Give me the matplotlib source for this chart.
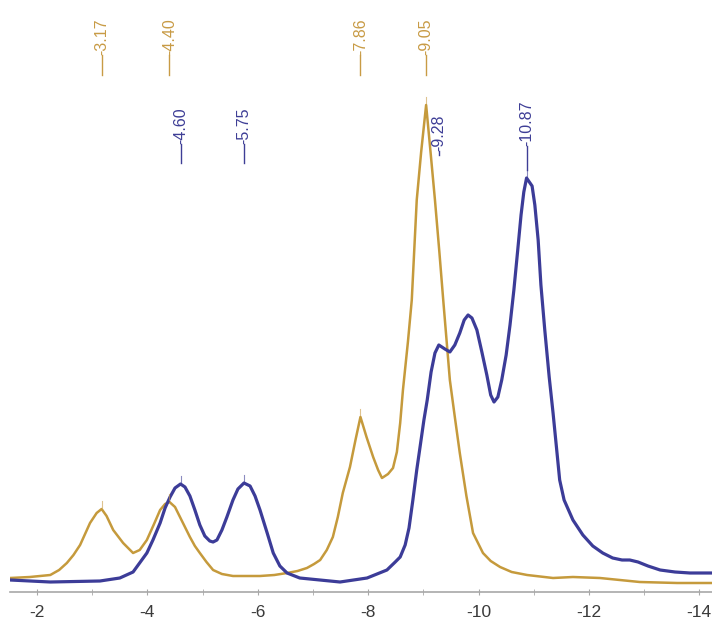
import matplotlib
matplotlib.use("Agg")
import matplotlib.pyplot as plt
from matplotlib.ticker import MultipleLocator, FuncFormatter

plt.rcParams["font.family"] = ["Liberation Sans", "DejaVu Sans"]
plt.rcParams["axes.unicode_minus"] = False

# Gold spectrum: chemical shift (ppm) and intensity
gold_shift = [-1.51, -1.87, -2.24, -2.40, -2.54, -2.66, -2.78, -2.96, -3.08, -3.17,
              -3.26, -3.38, -3.56, -3.74, -3.86, -3.99, -4.12, -4.23, -4.32, -4.40,
              -4.50, -4.59, -4.68, -4.77, -4.86, -4.95, -5.07, -5.19, -5.35, -5.55,
              -5.80, -6.04, -6.30, -6.53, -6.72, -6.89, -7.02, -7.13, -7.25, -7.36,
              -7.45, -7.54, -7.67, -7.77, -7.86, -7.97, -8.09, -8.18, -8.25, -8.36,
              -8.45, -8.52, -8.58, -8.63, -8.72, -8.79, -8.88, -8.96, -9.05, -9.13,
              -9.21, -9.29, -9.36, -9.48, -9.57, -9.66, -9.78, -9.90, -10.08, -10.22,
              -10.39, -10.60, -10.88, -11.35, -11.71, -12.20, -12.92, -13.60, -14.23]
gold_int = [14, 15, 17, 22, 29, 37, 47, 69, 79, 83,
            76, 62, 49, 39, 42, 52, 68, 82, 88, 90,
            85, 75, 65, 55, 46, 39, 30, 22, 18, 16,
            16, 16, 17, 19, 21, 24, 28, 32, 42, 55,
            75, 99, 125, 152, 175, 155, 135, 122, 114, 118,
            124, 140, 169, 202, 250, 292, 392, 440, 487, 440,
            392, 340, 292, 212, 175, 139, 96, 59, 39, 31,
            25, 20, 17, 14, 15, 14, 10, 9, 9]

# Blue spectrum: chemical shift (ppm) and intensity
blue_shift = [-1.51, -2.24, -3.14, -3.50, -3.74, -3.99, -4.10, -4.23, -4.32, -4.41,
              -4.50, -4.60, -4.68, -4.77, -4.86, -4.95, -5.04, -5.13, -5.19, -5.26,
              -5.35, -5.44, -5.55, -5.64, -5.75, -5.86, -5.95, -6.04, -6.17, -6.28,
              -6.40, -6.53, -6.76, -7.49, -7.98, -8.34, -8.49, -8.58, -8.67, -8.74,
              -8.81, -8.88, -8.94, -9.01, -9.07, -9.14, -9.21, -9.28, -9.39, -9.48,
              -9.57, -9.66, -9.74, -9.81, -9.88, -9.97, -10.06, -10.15, -10.22, -10.28,
              -10.35, -10.42, -10.50, -10.57, -10.64, -10.71, -10.77, -10.82, -10.87, -10.97,
              -11.02, -11.08, -11.13, -11.20, -11.28, -11.35, -11.42, -11.47, -11.55, -11.71,
              -11.89, -12.07, -12.25, -12.43, -12.60, -12.74, -12.89, -13.07, -13.29, -13.56,
              -13.83, -14.23]
blue_int = [12, 10, 11, 14, 20, 39, 52, 69, 84, 95,
            104, 108, 105, 96, 82, 67, 56, 51, 50, 52,
            62, 75, 92, 103, 109, 106, 96, 82, 59, 39,
            26, 19, 14, 10, 14, 22, 30, 35, 47, 64,
            92, 122, 145, 172, 192, 220, 239, 247, 243, 240,
            247, 259, 272, 277, 274, 262, 240, 217, 197, 190,
            195, 212, 237, 267, 302, 342, 377, 400, 414, 406,
            387, 352, 307, 262, 215, 179, 140, 112, 92, 72,
            57, 46, 39, 34, 32, 32, 30, 26, 22, 20,
            19, 19]

# Peak labels: (shift, label text)
gold_peaks = [-3.17, -4.40, -7.86, -9.05]
gold_labels = ["-3.17", "-4.40", "-7.86", "-9.05"]
blue_peaks = [-4.60, -5.75, -9.28, -10.87]
blue_labels = ["-4.60", "-5.75", "-9.28", "-10.87"]

GOLD = "#C59A3C"
GOLD_TXT = "#C89B45"
BLUE = "#3C3C98"
BLUE_TXT = "#3E3E96"

fig = plt.figure(figsize=(7.12, 6.24), dpi=100)
ax = fig.add_axes([10 / 712, 32 / 624, 702 / 712, 592 / 624])

ax.plot(gold_shift, gold_int, color=GOLD, lw=1.8, solid_joinstyle="round")
ax.plot(blue_shift, blue_int, color=BLUE, lw=2.3, solid_joinstyle="round")

ax.set_xlim(-1.51, -14.23)
ax.set_ylim(0, 592)


def peak_label(x, base, leader, text, color, peak_h=None):
    ax.plot([x, x], [base, base + leader], color=color, lw=1.0)
    ax.text(x, base + leader, text, rotation=90, ha="center", va="bottom",
            color=color, fontsize=11.5)
    if peak_h is not None:
        ax.plot([x, x], [peak_h + 2, peak_h + 8], color=color, lw=0.8, alpha=0.6)


gold_lookup = dict(zip(gold_shift, gold_int))
blue_lookup = dict(zip(blue_shift, blue_int))

for x, t in zip(gold_peaks, gold_labels):
    peak_label(x, 517, 20, t, GOLD_TXT, gold_lookup.get(x))

blue_base = {-4.60: (429, 19), -5.75: (429, 19), -9.28: (437, 4), -10.87: (422, 24)}
for x, t in zip(blue_peaks, blue_labels):
    b, l = blue_base[x]
    peak_label(x, b, l, t, BLUE_TXT, blue_lookup.get(x) if x != -9.28 else None)

for s in ["top", "left", "right"]:
    ax.spines[s].set_visible(False)
ax.spines["bottom"].set_color("#A8A8A8")
ax.spines["bottom"].set_linewidth(1.2)

ax.set_yticks([])
ax.xaxis.set_major_locator(MultipleLocator(2))
ax.xaxis.set_minor_locator(MultipleLocator(1))
ax.xaxis.set_major_formatter(FuncFormatter(lambda v, p: "%d" % round(v)))
ax.tick_params(axis="x", which="both", direction="inout", color="#A8A8A8",
               labelcolor="#3A3A3A", labelsize=12.5, pad=7)
ax.tick_params(axis="x", which="major", length=5)
ax.tick_params(axis="x", which="minor", length=4)

fig.savefig("out.png", dpi=100)
